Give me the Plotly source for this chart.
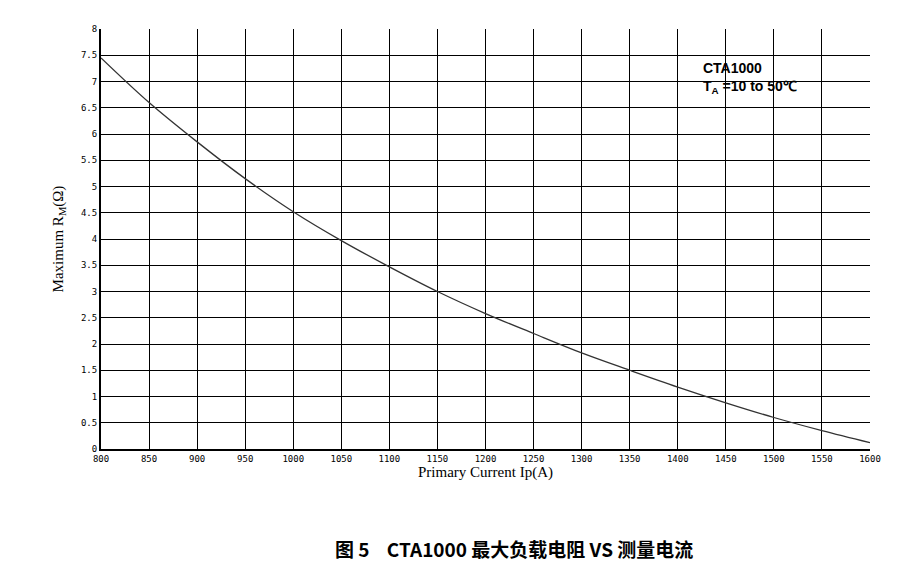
import plotly.graph_objects as go

current = [800, 850, 900, 950, 1000, 1050, 1100, 1150, 1200, 1250, 1300, 1350, 1400, 1450, 1500, 1550, 1600]
resistance = [7.45, 6.6, 5.85, 5.15, 4.52, 3.97, 3.47, 3.0, 2.58, 2.2, 1.83, 1.5, 1.18, 0.88, 0.6, 0.35, 0.12]
xticks = list(range(800, 1601, 50))
yticks = [i * 0.5 for i in range(17)]
ylabels = ["0" if v == 0 else (str(int(v)) if v == int(v) else str(v)) for v in yticks]

fig = go.Figure()
fig.add_trace(go.Scatter(x=current, y=resistance, mode="lines", line=dict(color="#333", width=1.3, shape="spline"), showlegend=False))

ax = dict(showgrid=True, gridcolor="black", gridwidth=1, showline=True, linecolor="black", linewidth=2, mirror=False,
          tickfont=dict(family="DejaVu Sans Mono", size=9, color="black"), ticks="", zeroline=False, automargin=False)
fig.update_xaxes(range=[800, 1600], tickvals=xticks, ticktext=[str(v) for v in xticks],
                 title=dict(text="Primary Current Ip(A)", font=dict(family="Liberation Serif", size=15, color="black"), standoff=4), **ax)
fig.update_yaxes(range=[0, 8], tickvals=yticks, ticktext=ylabels,
                 title=dict(text="Maximum R<sub>M</sub>(Ω)", font=dict(family="Liberation Serif", size=15, color="black"), standoff=14), **ax)
fig.add_annotation(x=1424, y=7.45, xref="x", yref="y", xanchor="left", yanchor="top", showarrow=False, align="left",
                   text="<b>CTA1000</b><br><b>T<sub>A</sub> =10 to 50℃</b>", font=dict(family="Liberation Sans", size=14, color="black"))
fig.add_annotation(x=0.5, y=-0.2, xref="paper", yref="paper", yanchor="top", showarrow=False,
                   text="<b>图 5    CTA1000 最大负载电阻 VS 测量电流</b>", font=dict(family="Noto Sans CJK SC", size=19, color="black"), xshift=28)
fig.update_layout(width=906, height=574, margin=dict(l=93, r=44, t=21, b=133, autoexpand=False), plot_bgcolor="white", paper_bgcolor="white")
fig.write_html("out.html")
